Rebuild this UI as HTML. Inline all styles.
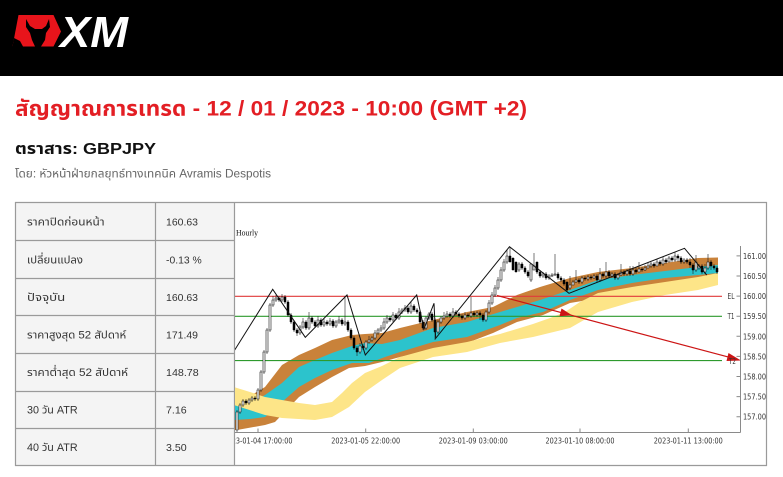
<!DOCTYPE html>
<html><head><meta charset="utf-8">
<style>
html,body{margin:0;padding:0;background:#fff;width:783px;height:477px;overflow:hidden}
svg{display:block}
.th{font-family:"Liberation Sans","Noto Sans Thai","Noto Sans Thai UI","Noto Sans","Loma","Garuda","Tlwg Typo",sans-serif}
.ax{font-family:"DejaVu Sans","Liberation Sans",sans-serif;font-size:7.5px;fill:#333}
</style></head><body>
<svg width="783" height="477" viewBox="0 0 783 477" xmlns="http://www.w3.org/2000/svg">
<defs><clipPath id="cc"><rect x="235" y="203" width="531" height="262"/></clipPath></defs>
<!-- header -->
<rect x="0" y="0" width="783" height="76" fill="#000"/>
<polygon points="18.5,15 53.5,15 61,31.5 53.5,46.5 12.5,46.5" fill="#e8141b"/>
<path d="M26 19 L30 26 L35 29 L42 29 L46 26 L49 19 L50 27 L46 33 L45 40 L41 46.5 L35 46.5 L32 40 L30 33 L26 27 Z" fill="#000"/>
<path d="M12.5 46.5 L14 38 L20 41 L23 46.5 Z" fill="#000"/>
<text x="60" y="47" font-family="Liberation Sans" font-weight="bold" font-style="italic" font-size="44" fill="#fff" textLength="68" lengthAdjust="spacingAndGlyphs">XM</text>

<!-- titles -->
<text class="th" x="15" y="115.5" fill="#e31e24" font-size="21" font-weight="bold" textLength="512" lengthAdjust="spacingAndGlyphs">สัญญาณการเทรด - 12 / 01 / 2023 - 10:00 (GMT +2)</text>
<text class="th" x="15" y="154" fill="#111" font-size="16" font-weight="bold" textLength="141" lengthAdjust="spacingAndGlyphs">ตราสาร: GBPJPY</text>
<text class="th" x="15" y="177.5" fill="#666" font-size="11.5" textLength="256" lengthAdjust="spacingAndGlyphs">โดย: หัวหน้าฝ่ายกลยุทธ์ทางเทคนิค Avramis Despotis</text>

<!-- table -->
<rect x="15" y="202" width="219" height="264" fill="#f4f4f4"/>
<rect x="234" y="202" width="533" height="264" fill="#fff"/>
<g stroke="#9a9a9a" stroke-width="1.2" fill="none">
<path d="M15 202.5H767M15 465.5H767M15 240.5H234M15 278.5H234M15 315.5H234M15 353.5H234M15 391.5H234M15 428.5H234"/>
<path d="M15.5 202V466M155.5 202V466M234.5 202V466M766.5 202V466"/>
</g>
<g class="th" font-size="11" fill="#333">
<text x="27" y="225.7" textLength="77.6" lengthAdjust="spacingAndGlyphs">ราคาปิดก่อนหน้า</text>
<text x="27" y="263.5" textLength="56" lengthAdjust="spacingAndGlyphs">เปลี่ยนแปลง</text>
<text x="27" y="300.8" textLength="38.3" lengthAdjust="spacingAndGlyphs">ปัจจุบัน</text>
<text x="27" y="338.3" textLength="99.3" lengthAdjust="spacingAndGlyphs">ราคาสูงสุด 52 สัปดาห์</text>
<text x="27" y="376.2" textLength="101" lengthAdjust="spacingAndGlyphs">ราคาต่ำสุด 52 สัปดาห์</text>
<text x="27" y="413.7" textLength="50.6" lengthAdjust="spacingAndGlyphs">30 วัน ATR</text>
<text x="27" y="451.2" textLength="50.6" lengthAdjust="spacingAndGlyphs">40 วัน ATR</text>
</g>
<g font-family="Liberation Sans, sans-serif" font-size="10.5" fill="#333">
<text x="166" y="225.7" textLength="32" lengthAdjust="spacingAndGlyphs">160.63</text>
<text x="166" y="263.5" textLength="35.7" lengthAdjust="spacingAndGlyphs">-0.13 %</text>
<text x="166" y="300.8" textLength="32" lengthAdjust="spacingAndGlyphs">160.63</text>
<text x="166" y="338.3" textLength="32" lengthAdjust="spacingAndGlyphs">171.49</text>
<text x="166" y="376.2" textLength="32.7" lengthAdjust="spacingAndGlyphs">148.78</text>
<text x="166" y="413.7" textLength="20.7" lengthAdjust="spacingAndGlyphs">7.16</text>
<text x="166" y="451.2" textLength="20.7" lengthAdjust="spacingAndGlyphs">3.50</text>
</g>

<!-- chart -->
<g clip-path="url(#cc)">
<text x="236" y="235.5" font-family="Liberation Serif, serif" font-size="8.5" fill="#111" textLength="22" lengthAdjust="spacingAndGlyphs">Hourly</text>

<polygon fill="#c9823a" points="234,398 250,396 265,387 282,365 299,355 315,348 332,340 352,335 365,334 382,333 400,328 433,320 467,312 493,307 517,295 540,287 570,278 598,272 632,268 665,263 698,258 718,257.5 718,277 700,279 665,285 630,292 600,298 570,303 543,315 517,322 493,333 467,343 433,350 400,357 382,362 365,366 349,368 332,377 315,387 299,397 275,422 265,425 237,430 234,430"/>
<polygon fill="#2cc3cc" points="234,405 250,404 265,395 282,383 299,367 315,360 332,353 352,346 365,343 382,344 400,340 433,328 467,322 500,312 517,307 540,300 570,290 598,280 632,275 665,271 698,267 718,265 718,273 698,275 665,278 632,283 598,290 570,300 543,312 517,318 500,325 467,337 433,342 400,352 385,357 369,363 352,363 332,370 315,378 299,387 265,417 250,419 234,420"/>
<polygon fill="#fde588" points="234,387 250,392 265,397 282,400 299,403 315,405 332,402 342,393 352,383 365,373 382,366 400,357 433,348 467,342 500,334 533,324 550,318 565,312 580,302 598,293 632,287 665,282 698,277 718,273 718,285 698,290 665,295 632,302 598,312 570,328 533,337 500,343 467,352 433,357 400,368 382,380 365,392 349,407 332,417 315,420 282,418 265,415 234,405"/>

<path d="M234 296.3H722" stroke="#e03a3a" stroke-width="1.1"/>
<path d="M234 316.3H722M234 360.6H722" stroke="#2e9a2e" stroke-width="1.1"/>

<!-- wicks -->
<path stroke="#222" stroke-width="0.6" fill="none" d="M237 410V432M240 403V414M243 399V407M246 399V405M249 398V405M252 396V402M255 396V401M258 388V401M261 370V392M264 350V374M267 328V354M270 303V332M273 296V307M276 295V302M279 296V302M282 294V302M285 295V304M288 300V317M291 313V324M294 320V332M297 328V336M300 325V335M303 318V329M306 320V330M309 312V330M312 316V324M315 320V328M318 316V328M321 318V327M324 318V327M327 320V326M330 318V326M333 319V328M336 320V328M339 316V324M342 318V326M345 296V326M348 320V332M351 328V340M354 336V350M357 346V356M360 343V354M363 344V350M366 340V350M369 336V344M372 336V342M375 330V340M378 328V335M381 325V332M384 318V330M387 315V324M390 316V322M393 312V322M396 313V320M399 308V320M402 308V314M405 305V312M408 306V314M411 302V314M414 304V312M417 308V314M420 310V324M423 320V330M426 316V330M429 312V320M432 312V322M435 318V340M438 320V334M441 316V324M444 312V320M447 311V318M450 312V318M453 308V318M456 310V316M459 312V318M462 314V320M465 312V320M468 313V318M471 297V318M474 311V317M477 311V317M480 311V320M483 313V322M486 310V322M489 300V314M492 292V305M495 285V297M498 277V290M501 267V282M504 259V272M507 250V264M510 247V262M513 258V268M516 263V272M519 262V272M522 262V270M525 266V274M528 270V278M531 268V282M534 253V268M537 264V274M540 270V278M543 272V278M546 272V280M549 274V280M552 273V277M555 254V276M558 272V280M561 276V282M564 278V286M567 282V292M570 276V290M573 280V285M576 270V283M579 278V284M582 276V284M585 276V281M588 275V281M591 275V280M594 274V279M597 274V282M600 268V282M603 272V278M606 262V278M609 270V278M612 272V278M615 272V280M618 273V280M621 264V276M624 270V276M627 269V276M630 266V276M633 266V276M636 268V274M639 262V272M642 267V272M645 265V271M648 263V268M651 262V268M654 262V268M657 259V266M660 260V266M663 257V266M666 258V264M669 256V262M672 256V262M675 252V262M678 254V262M681 256V264M684 258V264M687 258V264M690 258V268M693 263V274M696 255V272M699 264V270M702 264V274M705 264V274M708 254V270M711 260V270M714 264V270M717 266V274"/>
<!-- bearish bodies -->
<path fill="#000" stroke="#000" stroke-width="0.5" d="M245 401h2v2h-2zM254 398h2v1h-2zM278 298h2v2h-2zM284 297h2v5h-2zM287 302h2v13h-2zM290 315h2v7h-2zM293 322h2v8h-2zM296 330h2v3h-2zM305 322h2v6h-2zM311 318h2v4h-2zM314 322h2v4h-2zM320 320h2v5h-2zM326 322h2v2h-2zM332 321h2v5h-2zM341 320h2v4h-2zM347 322h2v8h-2zM350 330h2v8h-2zM353 338h2v10h-2zM356 348h2v4h-2zM362 346h2v2h-2zM389 318h2v2h-2zM395 315h2v3h-2zM407 308h2v4h-2zM413 306h2v4h-2zM416 310h2v2h-2zM419 312h2v10h-2zM422 322h2v6h-2zM431 314h2v6h-2zM434 320h2v12h-2zM449 314h2v2h-2zM455 312h2v2h-2zM458 314h2v2h-2zM461 316h2v2h-2zM467 315h2v1h-2zM473 313h2v2h-2zM479 313h2v2h-2zM482 315h2v5h-2zM509 256h2v6h-2zM512 258h2v12h-2zM515 262h2v10h-2zM521 264h2v4h-2zM524 268h2v4h-2zM527 272h2v4h-2zM536 262h2v10h-2zM539 272h2v4h-2zM545 274h2v4h-2zM557 274h2v4h-2zM560 278h2v2h-2zM563 280h2v4h-2zM566 282h2v8h-2zM578 280h2v2h-2zM584 278h2v1h-2zM590 277h2v1h-2zM596 276h2v4h-2zM602 274h2v2h-2zM608 272h2v4h-2zM614 274h2v4h-2zM623 272h2v2h-2zM629 271h2v3h-2zM635 270h2v2h-2zM641 269h2v1h-2zM653 264h2v2h-2zM659 262h2v2h-2zM665 260h2v2h-2zM671 258h2v2h-2zM677 256h2v2h-2zM680 258h2v4h-2zM686 260h2v2h-2zM689 262h2v3h-2zM692 265h2v5h-2zM701 266h2v6h-2zM710 262h2v4h-2zM713 266h2v2h-2zM716 268h2v4h-2z"/>
<!-- bullish bodies -->
<path fill="#fff" stroke="#111" stroke-width="0.6" d="M236 412h2v18h-2zM239 405h2v7h-2zM242 401h2v4h-2zM248 400h2v3h-2zM251 398h2v2h-2zM257 390h2v9h-2zM260 372h2v18h-2zM263 352h2v20h-2zM266 330h2v22h-2zM269 305h2v25h-2zM272 300h2v5h-2zM275 298h2v2h-2zM281 297h2v3h-2zM299 327h2v6h-2zM302 322h2v5h-2zM308 318h2v10h-2zM317 320h2v6h-2zM323 322h2v3h-2zM329 321h2v3h-2zM335 322h2v4h-2zM338 320h2v2h-2zM344 322h2v2h-2zM359 346h2v6h-2zM365 342h2v6h-2zM368 340h2v2h-2zM371 338h2v2h-2zM374 333h2v5h-2zM377 330h2v3h-2zM380 328h2v2h-2zM383 322h2v6h-2zM386 318h2v4h-2zM392 315h2v5h-2zM398 312h2v6h-2zM401 310h2v2h-2zM404 308h2v2h-2zM410 306h2v6h-2zM425 318h2v10h-2zM428 314h2v4h-2zM437 322h2v10h-2zM440 318h2v4h-2zM443 316h2v2h-2zM446 314h2v2h-2zM452 312h2v4h-2zM464 315h2v3h-2zM470 313h2v3h-2zM476 313h2v2h-2zM485 312h2v8h-2zM488 303h2v9h-2zM491 295h2v8h-2zM494 288h2v7h-2zM497 280h2v8h-2zM500 270h2v10h-2zM503 262h2v8h-2zM506 256h2v6h-2zM518 264h2v6h-2zM530 264h2v16h-2zM533 266h2v4h-2zM542 274h2v2h-2zM548 276h2v2h-2zM551 275h2v1h-2zM554 274h2v1h-2zM569 285h2v3h-2zM572 282h2v3h-2zM575 280h2v2h-2zM581 278h2v4h-2zM587 277h2v2h-2zM593 276h2v2h-2zM599 274h2v6h-2zM605 272h2v4h-2zM611 274h2v2h-2zM617 275h2v3h-2zM620 272h2v3h-2zM626 271h2v3h-2zM632 270h2v4h-2zM638 269h2v3h-2zM644 268h2v2h-2zM647 266h2v2h-2zM650 264h2v2h-2zM656 262h2v4h-2zM662 260h2v4h-2zM668 258h2v4h-2zM674 256h2v4h-2zM683 260h2v2h-2zM695 262h2v8h-2zM698 266h2v2h-2zM704 268h2v4h-2zM707 262h2v6h-2z"/>

<polyline fill="none" stroke="#111" stroke-width="1" points="234.7,350 272.7,289.3 305.3,337.3 347,295 365.3,355 416.7,295 424,329 434,303.3 435.7,338.3 509.5,246.7 569,293.3 684.5,248.3 706.7,275"/>

<path d="M497 295.5L729 357.2" stroke="#cc1414" stroke-width="1.2" fill="none"/>
<polygon fill="#cc1414" points="572,315.2 559.5,316.3 561.5,308.5"/>
<polygon fill="#cc1414" points="741,360.5 726.5,361 728.5,353"/>

<!-- axes -->
<path d="M234 432.5H740.5M740.5 246V432.5" stroke="#8a8a8a" stroke-width="1" fill="none"/>
<path stroke="#8a8a8a" stroke-width="1" d="M736.5 255.9H740.5M736.5 276H740.5M736.5 296.1H740.5M736.5 316.2H740.5M736.5 336.3H740.5M736.5 356.4H740.5M736.5 376.5H740.5M736.5 396.6H740.5M736.5 416.7H740.5M258 428.5V432.5M365.7 428.5V432.5M473.3 428.5V432.5M580 428.5V432.5M688.3 428.5V432.5"/>
<g class="ax">
<text x="743" y="258.9" textLength="23" lengthAdjust="spacingAndGlyphs">161.00</text>
<text x="743" y="279" textLength="23" lengthAdjust="spacingAndGlyphs">160.50</text>
<text x="743" y="299.1" textLength="23" lengthAdjust="spacingAndGlyphs">160.00</text>
<text x="743" y="319.2" textLength="23" lengthAdjust="spacingAndGlyphs">159.50</text>
<text x="743" y="339.3" textLength="23" lengthAdjust="spacingAndGlyphs">159.00</text>
<text x="743" y="359.4" textLength="23" lengthAdjust="spacingAndGlyphs">158.50</text>
<text x="743" y="379.5" textLength="23" lengthAdjust="spacingAndGlyphs">158.00</text>
<text x="743" y="399.6" textLength="23" lengthAdjust="spacingAndGlyphs">157.50</text>
<text x="743" y="419.7" textLength="23" lengthAdjust="spacingAndGlyphs">157.00</text>
<text x="727.5" y="299" textLength="7" lengthAdjust="spacingAndGlyphs">EL</text>
<text x="727.5" y="319.1" textLength="7" lengthAdjust="spacingAndGlyphs">T1</text>
<text x="729" y="364" textLength="7" lengthAdjust="spacingAndGlyphs">T2</text>
<text x="223.5" y="443.7" textLength="69" lengthAdjust="spacingAndGlyphs">2023-01-04 17:00:00</text>
<text x="331.2" y="443.7" textLength="69" lengthAdjust="spacingAndGlyphs">2023-01-05 22:00:00</text>
<text x="438.8" y="443.7" textLength="69" lengthAdjust="spacingAndGlyphs">2023-01-09 03:00:00</text>
<text x="545.5" y="443.7" textLength="69" lengthAdjust="spacingAndGlyphs">2023-01-10 08:00:00</text>
<text x="653.8" y="443.7" textLength="69" lengthAdjust="spacingAndGlyphs">2023-01-11 13:00:00</text>
</g>
</g>
</svg>
</body></html>
